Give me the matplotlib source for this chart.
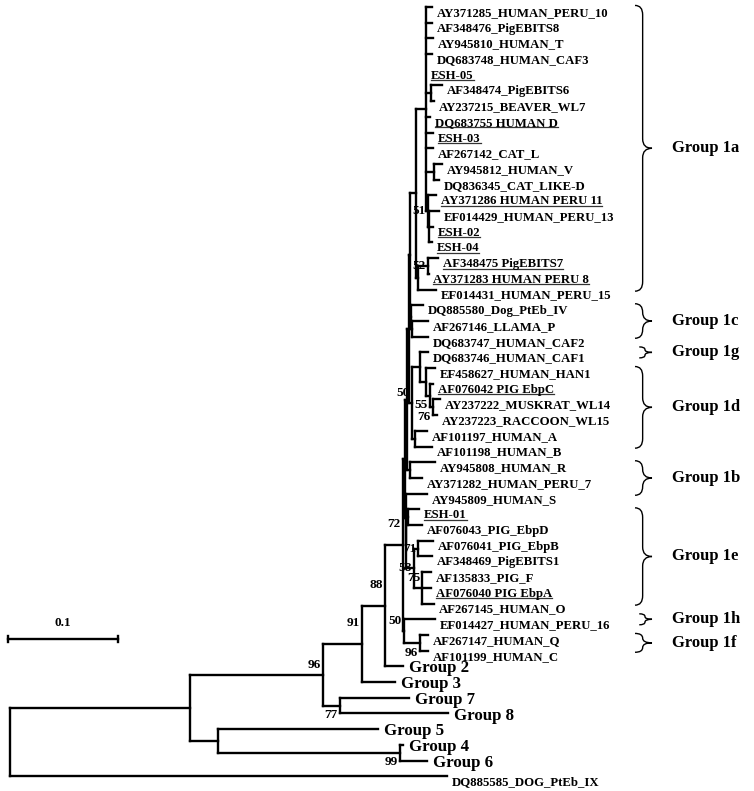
import re
import matplotlib
matplotlib.use('Agg')
import matplotlib.pyplot as plt
from matplotlib.path import Path
from matplotlib.patches import PathPatch
from matplotlib.transforms import IdentityTransform

plt.rcParams['font.family'] = ['Liberation Serif', 'DejaVu Serif']
plt.rcParams['font.weight'] = 'bold'

# Tree pieces in newick, branch lengths in substitutions/site
group_1a = ("((AY371285_HUMAN_PERU_10:0.0055,AF348476_PigEBITS8:0.0055,AY945810_HUMAN_T:0.0064,"
            "DQ683748_HUMAN_CAF3:0.0055,ESH-05:0,(AF348474_PigEBITS6:0.0100,AY237215_BEAVER_WL7:0.0027)n67:0.0045,"
            "DQ683755_HUMAN_D:0.0036,ESH-03:0.0064,AF267142_CAT_L:0.0064,"
            "(AY945812_HUMAN_V:0.0073,DQ836345_CAT_LIKE-D:0.0045)n1112:0.0073,"
            "(AY371286_HUMAN_PERU_11:0.0073,(EF014429_HUMAN_PERU_13:0.0091,ESH-02:0.0036,ESH-04:0.0027)n1416:0.0009)n51:0.0018)q1:0.0091,"
            "((AF348475_PigEBITS7:0.0091,AY371283_HUMAN_PERU_8:0.0005)n52:0.0091,EF014431_HUMAN_PERU_15:0.0164)k:0.0018)a1a:0.0055")
group_1c = "(DQ885580_Dog_PtEb_IV:0.0109,(AF267146_LLAMA_P:0.0150,DQ683747_HUMAN_CAF2:0.0150)l4:0.0005)l3:0.0009"
group_1gd = ("((DQ683746_HUMAN_CAF1:0.0073,(EF458627_HUMAN_HAN1:0.0082,(AF076042_PIG_EbpC:0.0027,"
             "(AY237222_MUSKRAT_WL14:0.0064,AY237223_RACCOON_WL15:0.0036)n76:0.0027)n55:0.0036)d1:0.0055)g1gd:0.0073,"
             "(AF101197_HUMAN_A:0.0109,AF101198_HUMAN_B:0.0155)ab:0.0027)n50b:0.0027")
group_1b = "(AY945808_HUMAN_R:0.0227,AY371282_HUMAN_PERU_7:0.0109)b1:0.0027"
group_1e = ("((ESH-01:0.0100,AF076043_PIG_EbpD:0.0127)z1:0.0018,((AF076041_PIG_EbpB:0.0136,AF348469_PigEBITS1:0.0127)n71:0.0036,"
            "(AF135833_PIG_F:0.0082,AF076040_PIG_EbpA:0.0082,AF267145_HUMAN_O:0.0109)n75:0.0073)n58:0.0073)e1:0.0005")
group_1hf = "(EF014427_HUMAN_PERU_16:0.0282,(AF267147_HUMAN_Q:0.0073,AF101199_HUMAN_C:0.0073)n96b:0.0145)n50a:0.0009"

clade_l1 = "((" + group_1a + "," + group_1c + ")l2:0.0009," + group_1gd + ")l1:0.0018"
clade_x = "((" + clade_l1 + "," + group_1b + ")y:0.0018,(AY945809_HUMAN_S:0.0195," + group_1e + ")x2:0.0005)x:0.0018"
clade_e = "(" + clade_x + "," + group_1hf + ")n72:0.0164"
clade_b = ("(((" + clade_e + ",Group_2:0.0164)n88:0.0209,Group_3:0.0300)n91:0.0355,"
           "(Group_7:0.0627,Group_8:0.0982)n77:0.0155)n96a:0.1209")
clade_g = "(Group_5:0.1455,(Group_4:0.0027,Group_6:0.0245)n99:0.1655)g:0.0255"
tree_newick = "((" + clade_b + "," + clade_g + ")a:0.1636,DQ885585_DOG_PtEb_IX:0.3973);"

# bootstrap values by node, and where the number sits
support = {'n96a': 96, 'n91': 91, 'n88': 88, 'n72': 72, 'n50a': 50, 'n96b': 96, 'n77': 77,
           'n99': 99, 'n58': 58, 'n71': 71, 'n75': 75, 'n50b': 50, 'n55': 55, 'n76': 76,
           'n51': 51, 'n52': 52}
support_side = {'n96a': 'above', 'n91': 'high', 'n88': 'high', 'n72': 'high', 'n50a': 'above',
                'n96b': 'below', 'n77': 'below', 'n99': 'below', 'n58': 'level', 'n71': 'level',
                'n75': 'above', 'n50b': 'above', 'n55': 'below', 'n76': 'below', 'n51': 'level',
                'n52': 'level'}

underlined = ['ESH-05', 'DQ683755_HUMAN_D', 'ESH-03', 'AY371286_HUMAN_PERU_11', 'ESH-02', 'ESH-04',
              'AF348475_PigEBITS7', 'AY371283_HUMAN_PERU_8', 'AF076042_PIG_EbpC', 'ESH-01',
              'AF076040_PIG_EbpA']

brace_labels = ['Group 1a', 'Group 1c', 'Group 1g', 'Group 1d', 'Group 1b', 'Group 1e', 'Group 1h', 'Group 1f']
brace_first = [1, 20, 23, 24, 30, 33, 40, 41]
brace_last = [19, 22, 23, 29, 32, 39, 40, 42]

scale_length = 0.1
scale_label = '0.1'


def parse_newick(s):
    pos = 0
    token = re.compile(r'([^:,();]*)(?::([-0-9.eE]+))?')

    def read():
        nonlocal pos
        kids = []
        if s[pos] == '(':
            pos += 1
            kids.append(read())
            while s[pos] == ',':
                pos += 1
                kids.append(read())
            pos += 1
        m = token.match(s, pos)
        pos = m.end()
        return {'name': m.group(1), 'len': float(m.group(2)) if m.group(2) else 0.0, 'kids': kids}
    return read()


leaves = []


def layout(node, x0):
    node['x'] = x0 + node['len']
    if node['kids']:
        for k in node['kids']:
            layout(k, node['x'])
        node['y'] = (node['kids'][0]['y'] + node['kids'][-1]['y']) / 2
    else:
        leaves.append(node)
        node['y'] = len(leaves)


root = parse_newick(tree_newick)
layout(root, 0.0)

fig = plt.figure(figsize=(7.54, 7.91), dpi=100)
ax = fig.add_axes([0, 0, 1, 1])
ax.set_xlim(-10 / 1100, 744 / 1100)
ax.set_ylim(1 + 784 / 15.7, 1 - 7 / 15.7)
ax.axis('off')
ax.set_autoscale_on(False)

lw = 1.7


def draw(node):
    if not node['kids']:
        return
    ys = [k['y'] for k in node['kids']]
    ax.plot([node['x'], node['x']], [min(ys), max(ys)], color='black', lw=lw, solid_capstyle='projecting')
    for k in node['kids']:
        ax.plot([node['x'], k['x']], [k['y'], k['y']], color='black', lw=lw, solid_capstyle='projecting')
        draw(k)
    if node['name'] in support:
        side = support_side[node['name']]
        dy = {'above': 7, 'high': 15, 'level': 0, 'below': -7}[side]
        ax.annotate(str(support[node['name']]), (node['x'], node['y']), xytext=(-1.5, dy),
                    textcoords='offset points', ha='right', va='center', fontsize=9.5)


draw(root)

under_texts = []
for leaf in leaves:
    name = leaf['name']
    if name.startswith('Group_'):
        ax.annotate(name.replace('_', ' '), (leaf['x'], leaf['y']), xytext=(4, -1.5),
                    textcoords='offset points', ha='left', va='center', fontsize=12.2)
    elif name in underlined:
        t = ax.annotate(name.replace('_', ' '), (leaf['x'], leaf['y']), xytext=(3.5, -4.3),
                        textcoords='offset points', ha='left', va='center', fontsize=9.2)
        under_texts.append(t)
    else:
        ax.annotate(name, (leaf['x'], leaf['y']), xytext=(3.5, -4.3),
                    textcoords='offset points', ha='left', va='center', fontsize=9.2)

# curly braces for the subgroups
xl, xr = (635 - 10) / 1100, (652 - 10) / 1100
for label, first, last in zip(brace_labels, brace_first, brace_last):
    pad = 0.35 if first == last else 0.1
    y0, y1 = first - pad, last + pad
    ym = (y0 + y1) / 2
    r = min(0.6, (y1 - y0) / 4)
    w = xr - xl if first != last else (xr - xl) * 0.75
    x_left = xr - w
    xm = x_left + 0.45 * w
    verts = [(x_left, y0), (xm, y0), (xm, y0 + r), (xm, ym - r), (xm, ym), (xr, ym),
             (xm, ym), (xm, ym + r), (xm, y1 - r), (xm, y1), (x_left, y1)]
    codes = [Path.MOVETO, Path.CURVE3, Path.CURVE3, Path.LINETO, Path.CURVE3, Path.CURVE3,
             Path.CURVE3, Path.CURVE3, Path.LINETO, Path.CURVE3, Path.CURVE3]
    ax.add_patch(PathPatch(Path(verts, codes), fill=False, lw=1.0, edgecolor='black'))
    ax.annotate(label, (xr, ym), xytext=(14.5, 0), textcoords='offset points',
                ha='left', va='center', fontsize=12)

# scale bar
sx0 = -2 / 1100
sy = 1 + (639 - 7) / 15.7
ax.plot([sx0, sx0 + scale_length], [sy, sy], color='black', lw=1.7)
for sx in (sx0, sx0 + scale_length):
    ax.plot([sx, sx], [sy - 0.22, sy + 0.22], color='black', lw=1.7)
ax.text(sx0 + scale_length / 2, sy - 1.0, scale_label, ha='center', va='center', fontsize=9.5)

# underline the sequences from this study
fig.canvas.draw()
renderer = fig.canvas.get_renderer()
for t in under_texts:
    bb = t.get_window_extent(renderer)
    ax.plot([bb.x0, bb.x1], [bb.y0 + 1.5, bb.y0 + 1.5], transform=IdentityTransform(),
            color='#333333', lw=0.9)

fig.savefig('out.png', dpi=100)
